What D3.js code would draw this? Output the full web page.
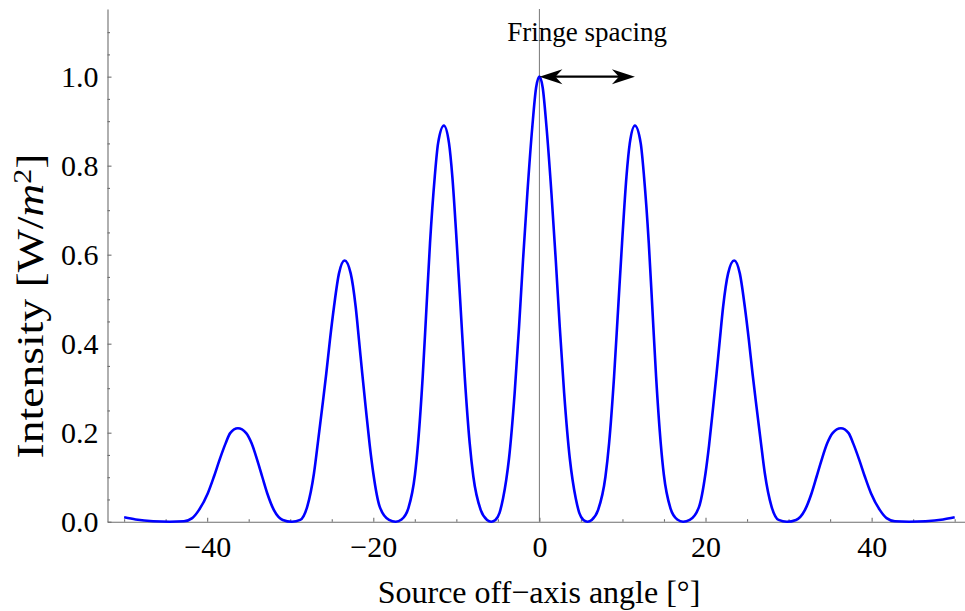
<!DOCTYPE html>
<html>
<head>
<meta charset="utf-8">
<script src="https://cdn.jsdelivr.net/npm/d3@7"></script>
<style>
  body { margin: 0; background: #fff; }
  text { font-family: "Liberation Serif", "Times New Roman", serif; fill: #000; }
</style>
</head>
<body>
<div class="svgContainer"></div>
<script>
// curve: source off-axis angle [deg] -> intensity
const angles = [
  -50, -48.6, -46.5, -44.5, -42.8, -41.8, -41.0, -39.92, -39.19, -38.51,
  -37.78, -37.23, -36.3, -35.3, -34.65, -33.98, -33.37, -32.77, -31.96, -30.9,
  -29.8, -28.8, -27.95, -27.14, -26.63, -26.14, -25.66, -25.22, -24.73, -24.13,
  -23.45, -22.72, -22.12, -21.72, -21.33, -20.92, -20.43, -20.0, -19.23, -18.1,
  -17.3, -16.6, -15.78, -14.98, -14.61, -14.05, -13.61, -13.17, -12.6, -12.2,
  -11.5, -10.88, -10.48, -9.95, -9.47, -8.99, -8.39, -7.95, -7.06, -6.3,
  -5.8, -5.3, -4.8, -4.38, -4.0, -3.66, -2.98, -2.45, -1.97, -1.45, -0.85, -0.4,
  0,
  0.4, 0.85, 1.45, 1.97, 2.45, 2.98, 3.66, 4.0, 4.38, 4.8, 5.3, 5.8,
  6.3, 7.06, 7.95, 8.39, 8.99, 9.47, 9.95, 10.48, 10.88, 11.5,
  12.2, 12.6, 13.17, 13.61, 14.05, 14.61, 14.98, 15.78, 16.6, 17.3,
  18.1, 19.23, 20.0, 20.43, 20.92, 21.33, 21.72, 22.12, 22.72, 23.45,
  24.13, 24.73, 25.22, 25.66, 26.14, 26.63, 27.14, 27.95, 28.8, 29.8,
  30.9, 31.96, 32.77, 33.37, 33.98, 34.65, 35.3, 36.3, 37.23, 37.78,
  38.51, 39.19, 39.92, 41.0, 41.8, 42.8, 44.5, 46.5, 48.6, 50.0
];
const intensity = [
  0.010, 0.005, 0.001, 0.0, 0.001, 0.008, 0.026, 0.064, 0.101, 0.139,
  0.176, 0.199, 0.210, 0.199, 0.176, 0.139, 0.101, 0.064, 0.026, 0.004,
  0.0, 0.004, 0.034, 0.109, 0.184, 0.258, 0.333, 0.408, 0.483, 0.558,
  0.587, 0.558, 0.483, 0.408, 0.333, 0.258, 0.172, 0.109, 0.034, 0.004,
  0.0, 0.005, 0.030, 0.106, 0.176, 0.326, 0.476, 0.626, 0.775, 0.850,
  0.890, 0.850, 0.775, 0.626, 0.476, 0.326, 0.176, 0.101, 0.026, 0.004,
  0.0, 0.004, 0.020, 0.052, 0.093, 0.142, 0.289, 0.438, 0.588, 0.738, 0.888, 0.975,
  1.0,
  0.975, 0.888, 0.738, 0.588, 0.438, 0.289, 0.142, 0.093, 0.052, 0.020, 0.004, 0.0,
  0.004, 0.026, 0.101, 0.176, 0.326, 0.476, 0.626, 0.775, 0.850, 0.890,
  0.850, 0.775, 0.626, 0.476, 0.326, 0.176, 0.106, 0.030, 0.005, 0.0,
  0.004, 0.034, 0.109, 0.172, 0.258, 0.333, 0.408, 0.483, 0.558, 0.587,
  0.558, 0.483, 0.408, 0.333, 0.258, 0.184, 0.109, 0.034, 0.004, 0.0,
  0.004, 0.026, 0.064, 0.101, 0.139, 0.176, 0.199, 0.210, 0.199, 0.176,
  0.139, 0.101, 0.064, 0.026, 0.008, 0.001, 0.0, 0.001, 0.005, 0.010
];

const xTicks = [-40, -20, 0, 20, 40];
const xMinorTicks = [-50, -45, -35, -30, -25, -15, -10, -5, 5, 10, 15, 25, 30, 35, 45, 50];
const yTicks = [0.0, 0.2, 0.4, 0.6, 0.8, 1.0];
const yMinorTicks = [0.05, 0.1, 0.15, 0.25, 0.3, 0.35, 0.45, 0.5, 0.55, 0.65, 0.7, 0.75, 0.85, 0.9, 0.95, 1.05, 1.1];

// annotation: arrow from the central peak to the first side peak
const fringeArrow = [0, 11.5];
const fringeLevel = 1.0;
const fringeText = 'Fringe spacing';
const fringeTextLevel = 1.08;

const width = 965;
const height = 611;

const svg = d3.select('.svgContainer').append('svg')
  .attr('width', width)
  .attr('height', height);

const scaleX = d3.scaleLinear()
  .domain([-52, 52])
  .range([107.5, 971.3]);

const scaleY = d3.scaleLinear()
  .domain([0, 1.152])
  .range([521.7, 9]);

const axisColor = '#6e6e6e';

// vertical line at zero
svg.append('line')
  .attr('x1', scaleX(0)).attr('x2', scaleX(0))
  .attr('y1', scaleY(1.152)).attr('y2', scaleY(0))
  .attr('stroke', '#777')
  .attr('stroke-width', 1);

// x axis
svg.append('g')
  .attr('transform', 'translate(0,' + scaleY(0) + ')')
  .call(d3.axisBottom(scaleX).tickValues(xTicks).tickSize(-4).tickSizeOuter(0).tickPadding(14));
svg.append('g')
  .attr('transform', 'translate(0,' + scaleY(0) + ')')
  .call(d3.axisBottom(scaleX).tickValues(xMinorTicks).tickFormat('').tickSize(-2.5))
  .call(g => g.select('.domain').remove());

// y axis
svg.append('g')
  .attr('transform', 'translate(' + scaleX(-52) + ',0)')
  .call(d3.axisLeft(scaleY).tickValues(yTicks).tickFormat(d3.format('.1f')).tickSize(-4).tickSizeOuter(0).tickPadding(9));
svg.append('g')
  .attr('transform', 'translate(' + scaleX(-52) + ',0)')
  .call(d3.axisLeft(scaleY).tickValues(yMinorTicks).tickFormat('').tickSize(-2.5))
  .call(g => g.select('.domain').remove());

svg.selectAll('.domain, .tick line')
  .attr('stroke', axisColor)
  .attr('stroke-width', 1.1);
svg.selectAll('.tick text')
  .attr('font-size', 30)
  .attr('fill', '#000');

// the curve
const points = angles.map((a, i) => [a, intensity[i]]);
const line = d3.line()
  .x(d => scaleX(d[0]))
  .y(d => scaleY(d[1]))
  .curve(d3.curveMonotoneX);

svg.append('path')
  .datum(points)
  .attr('d', line)
  .attr('fill', 'none')
  .attr('stroke', '#0000ff')
  .attr('stroke-width', 2.6)
  .attr('stroke-linejoin', 'round');

// double arrow
const ay = scaleY(fringeLevel);
const ax1 = scaleX(fringeArrow[0]);
const ax2 = scaleX(fringeArrow[1]);
svg.append('line')
  .attr('x1', ax1 + 10).attr('x2', ax2 - 10)
  .attr('y1', ay).attr('y2', ay)
  .attr('stroke', '#000')
  .attr('stroke-width', 2.3);

function head(tx, dir) {
  return 'M' + tx + ',' + ay +
    'L' + (tx - dir * 23) + ',' + (ay - 7.5) +
    'L' + (tx - dir * 16) + ',' + ay +
    'L' + (tx - dir * 23) + ',' + (ay + 7.5) + 'Z';
}
svg.append('path').attr('d', head(ax1, -1)).attr('fill', '#000');
svg.append('path').attr('d', head(ax2, 1)).attr('fill', '#000');

svg.append('text')
  .attr('x', scaleX((fringeArrow[0] + fringeArrow[1]) / 2))
  .attr('y', scaleY(fringeTextLevel))
  .attr('text-anchor', 'middle')
  .attr('font-size', 27)
  .text(fringeText);

// axis labels
svg.append('text')
  .attr('x', 539)
  .attr('y', 603)
  .attr('text-anchor', 'middle')
  .attr('font-size', 32)
  .text('Source off\u2212axis angle [\u00b0]');

const yLabel = svg.append('text')
  .attr('transform', 'translate(43,306) rotate(-90)')
  .attr('text-anchor', 'middle')
  .attr('font-size', 38)
  .attr('textLength', 305)
  .attr('lengthAdjust', 'spacingAndGlyphs');
yLabel.append('tspan').text('Intensity [W/');
yLabel.append('tspan').attr('font-style', 'italic').text('m');
yLabel.append('tspan').attr('font-size', 25).attr('dy', '-0.5em').text('2');
yLabel.append('tspan').attr('dy', '0.34em').text(']');
</script>
</body>
</html>
